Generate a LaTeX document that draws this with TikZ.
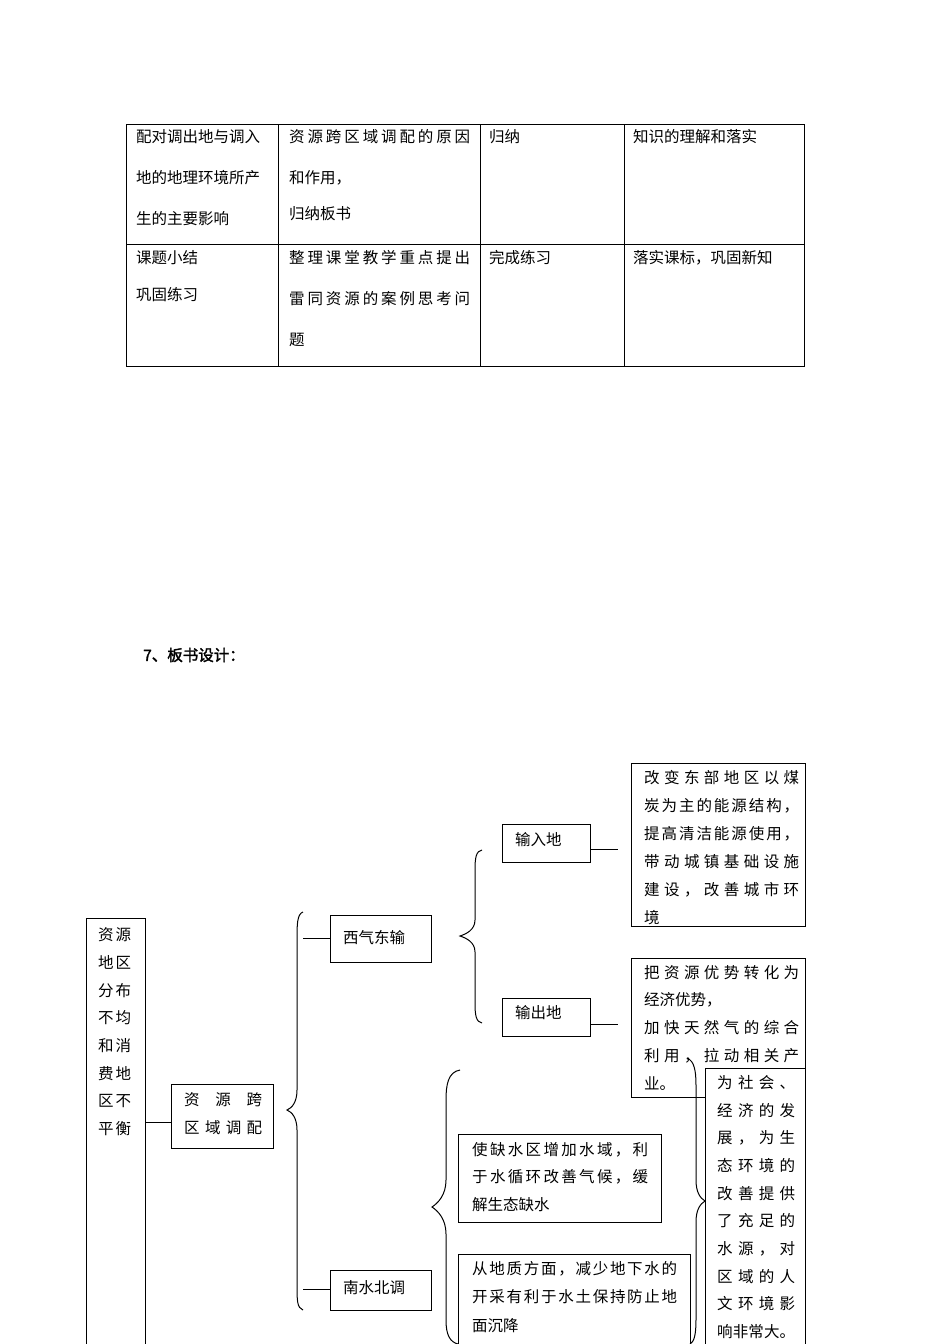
\documentclass[tikz,border=0pt]{standalone}
\usepackage{fontspec}
\setmainfont{Noto Sans CJK SC}[AutoFakeBold=2]
\def\spreadchars#1{\spreadfirst#1\relax}
\def\spreadfirst#1{#1\spreadaux}
\def\spreadaux#1{\ifx#1\relax\else\hfill#1\expandafter\spreadaux\fi}
\newcommand\sline[2]{\hbox to #1{\expandafter\spreadchars\expandafter{#2}}}
\tikzset{bx/.style={draw,line width=1pt},
 tx/.style={anchor=west,inner sep=0pt,font=\fontsize{15.5}{16}\selectfont},
 ln/.style={line width=1pt},
 br/.style={line width=1pt}}
\begin{document}
\begin{tikzpicture}[x=1pt,y=-1pt]
\useasboundingbox (0,0) rectangle (950,1344);
% table
\draw[ln] (126,124) rectangle (804,366);
\draw[ln] (126,244) -- (804,244);
\foreach \xx in {278,480,624} \draw[ln] (\xx,124) -- (\xx,366);
\node[tx] (t11) at (136,137) {配对调出地与调入};
\node[tx] (t12) at (136,178) {地的地理环境所产};
\node[tx] (t13) at (136,219) {生的主要影响};
\node[tx] (t21) at (289,137) {\sline{181pt}{资源跨区域调配的原因}};
\node[tx] (t22) at (289,178) {和作用，};
\node[tx] (t23) at (289,214) {归纳板书};
\node[tx] (t31) at (489,137) {归纳};
\node[tx] (t41) at (633,137) {知识的理解和落实};
\node[tx] (u11) at (136,258) {课题小结};
\node[tx] (u12) at (136,295) {巩固练习};
\node[tx] (u21) at (289,258) {\sline{181pt}{整理课堂教学重点提出}};
\node[tx] (u22) at (289,299) {\sline{181pt}{雷同资源的案例思考问}};
\node[tx] (u23) at (289,340) {题};
\node[tx] (u31) at (489,258) {完成练习};
\node[tx] (u41) at (633,258) {落实课标，巩固新知};
% heading
\node[tx,font=\fontsize{15.5}{16}\selectfont\bfseries] (head) at (143,655) {7、板书设计：};
% left tall box
\draw[bx] (86,918) rectangle (145,1350);
\foreach \t [count=\i] in {资源,地区,分布,不均,和消,费地,区不,平衡}
  \node[tx] at (98,{935+(\i-1)*27.7}) {\sline{33pt}{\t}};
% box 资源跨区域调配
\draw[bx] (171,1084) rectangle (273,1148);
\node[tx] at (184,1100) {\sline{78pt}{资源跨}};
\node[tx] at (184,1128) {\sline{78pt}{区域调配}};
\coordinate (lb) at (145,1122); \coordinate (zb) at (171,1122);
\draw[ln] (lb) -- (zb);
% big brace
\draw[br] (303,912) .. controls (297,914) and (297,925) .. (297,940) -- (297,1090)
  .. controls (297,1102) and (292,1108) .. (287,1110)
  .. controls (292,1112) and (297,1118) .. (297,1130) -- (297,1285)
  .. controls (297,1300) and (297,1308) .. (303,1310);
% 西气东输
\draw[bx] (330,915) rectangle (431,962);
\node[tx] at (343,938) {西气东输};
\draw[ln] (303,938) -- (330,938);
\draw[bx] (330,1270) rectangle (431,1310);
\node[tx] at (343,1288) {南水北调};
\draw[ln] (303,1289) -- (330,1289);
% brace 2
\draw[br] (482,850) .. controls (476,851) and (475,858) .. (475,870) -- (475,920)
  .. controls (475,930) and (466,934) .. (460,936)
  .. controls (466,938) and (475,942) .. (475,952) -- (475,1003)
  .. controls (475,1015) and (476,1022) .. (482,1023);
\draw[bx] (502,824) rectangle (590,862);
\node[tx] at (515,840) {输入地};
\draw[ln] (590,849) -- (618,849);
\draw[bx] (502,998) rectangle (590,1036);
\node[tx] at (515,1013) {输出地};
\draw[ln] (590,1024) -- (618,1024);
% text box 1
\draw[bx] (631,763) rectangle (805,926);
\begin{scope}
\clip (631,763) rectangle (805,925);
\node[tx] at (644,778) {\sline{155pt}{改变东部地区以煤}};
\node[tx] at (644,806) {\sline{155pt}{炭为主的能源结构，}};
\node[tx] at (644,834) {\sline{155pt}{提高清洁能源使用，}};
\node[tx] at (644,862) {\sline{155pt}{带动城镇基础设施}};
\node[tx] at (644,890) {\sline{155pt}{建设，改善城市环}};
\node[tx] at (644,918) {境};
\end{scope}
% text box 2
\draw[bx] (631,958) rectangle (805,1097);
\begin{scope}
\clip (631,958) rectangle (805,1096);
\node[tx] at (644,973) {\sline{155pt}{把资源优势转化为}};
\node[tx] at (644,1000) {经济优势，};
\node[tx] at (644,1028) {\sline{155pt}{加快天然气的综合}};
\node[tx] at (644,1056) {\sline{155pt}{利用，拉动相关产}};
\node[tx] at (644,1084) {业。};
\end{scope}
% brace 3
\draw[br] (460,1070) .. controls (448,1072) and (446,1085) .. (446,1100) -- (446,1180)
  .. controls (446,1195) and (438,1203) .. (432,1207)
  .. controls (438,1211) and (446,1219) .. (446,1234) -- (446,1320)
  .. controls (446,1335) and (450,1342) .. (458,1344);
\draw[bx] (458,1134) rectangle (661,1222);
\node[tx] at (472,1150) {\sline{176pt}{使缺水区增加水域，利}};
\node[tx] at (472,1177) {\sline{176pt}{于水循环改善气候，缓}};
\node[tx] at (472,1205) {解生态缺水};
\draw[bx] (458,1254) rectangle (690,1350);
\node[tx] at (472,1269) {\sline{205pt}{从地质方面，减少地下水的}};
\node[tx] at (472,1297) {\sline{205pt}{开采有利于水土保持防止地}};
\node[tx] at (472,1326) {面沉降};
% closing brace
\draw[br] (688,1058) .. controls (694,1062) and (696,1070) .. (696,1085) -- (696,1180)
  .. controls (696,1192) and (700,1198) .. (705,1201)
  .. controls (700,1204) and (696,1210) .. (696,1222) -- (696,1320)
  .. controls (696,1335) and (694,1342) .. (690,1344);
% box 为社会
\draw[bx,fill=white] (705,1068) rectangle (805,1350);
\begin{scope}
\clip (705,1068) rectangle (805,1343);
\foreach \t [count=\i] in {为社会、,经济的发,展，为生,态环境的,改善提供,了充足的,水源，对,区域的人,文环境影,响非常大。}
  \node[tx] at (717,{1083+(\i-1)*27.6}) {\sline{78pt}{\t}};
\end{scope}
\end{tikzpicture}
\end{document}
